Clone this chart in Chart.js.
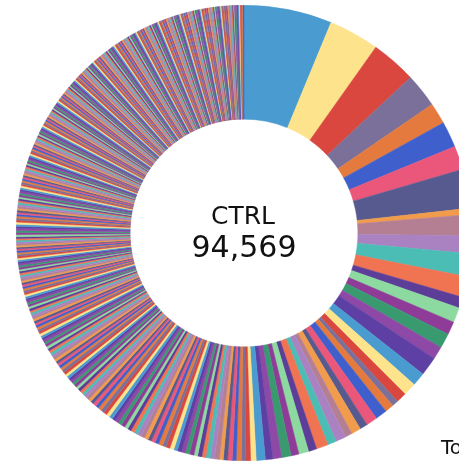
<!DOCTYPE html>
<html>
<head>
<meta charset="utf-8">
<script src="https://cdn.jsdelivr.net/npm/chart.js@4.4.1/dist/chart.umd.min.js"></script>
<style>
    html, body { margin: 0; padding: 0; background: #fff; overflow: hidden; width: 459px; height: 462px; }
    #wrap { position: absolute; left: 16px; top: 5px; width: 456px; height: 456px; }
    #cut { position: absolute; left: 441px; top: 437px; font: 20px "DejaVu Sans", sans-serif; color: #111; white-space: nowrap; line-height: 20px; }
</style>
</head>
<body>
<div id="wrap"><canvas id="donut"></canvas></div>
<div id="cut">Total</div>
<script>
// Etiqueta central
const centerTitle = 'CTRL';
const centerTotal = '94,569';

// Porciones grandes (arriba a la derecha)
const majorCounts = [5858, 3363, 3021, 2259, 1419, 1734, 1576, 2601, 420, 1392, 1182, 1524, 1392];
const secondCounts = [736, 998, 867, 998, 841, 1261, 893, 867];
const thirdCounts = [683, 420, 578, 788, 736, 525, 630, 473, 683, 578, 788, 552, 657, 525, 630, 578, 499, 604, 368];

// Cola larga (abajo y a la izquierda)
const tailA = [310, 295, 342, 268, 301, 287, 255, 330, 276, 298, 262, 281, 249, 305, 270, 258, 292, 244, 276, 263,
    239, 284, 251, 268, 236, 259, 247, 273, 230, 255, 242, 226, 261, 238, 249, 222, 244, 231, 218, 240, 227, 215, 233];
const tailB = [205, 188, 214, 196, 179, 201, 192, 174, 198, 185,
    170, 193, 181, 168, 189, 176, 163, 184, 172, 160,
    181, 169, 157, 176, 165, 152, 171, 161, 149, 168,
    158, 146, 165, 154, 143, 161, 151, 140, 158, 148,
    137, 155, 145, 134, 152, 142, 131, 149, 139, 129,
    146, 136, 127, 143, 134, 125, 141, 131, 123, 138,
    129, 121, 136, 127, 119, 133, 124, 117, 131, 122,
    115, 128, 120, 113, 126, 118, 111, 124, 116, 109,
    121, 114, 108];
const tailC = [148, 139, 132, 144, 136, 129, 141, 133, 126, 138,
    131, 124, 136, 128, 122, 134, 127, 120, 132, 125,
    119, 130, 123, 117, 128, 121, 115, 126, 119, 114,
    124, 118, 112, 122, 116, 111, 121, 115, 109, 119,
    113, 108, 118, 112, 107, 116, 110, 105, 115, 109,
    104, 113, 108, 103, 112, 106, 102, 110, 105, 101,
    109, 104, 100, 108, 103, 99, 107, 102, 98, 106,
    101, 97, 105, 100, 96, 104, 99, 95, 103, 98,
    94, 102, 97, 93, 101, 96, 92, 100, 95, 91,
    99, 94, 90, 98, 93, 89, 97, 92, 88, 96,
    91, 87, 95, 90, 86, 94, 89, 85, 93, 88,
    84, 92, 87, 83, 91, 86, 82, 90, 85, 81,
    89, 84, 80, 88, 83];
const tailD = [102, 95, 99, 91, 97, 93, 88, 96, 92, 98,
    90, 95, 87, 93, 89, 94, 86, 91, 96, 88,
    92, 85, 90, 87, 93, 84, 89, 91, 86, 88,
    83, 90, 86, 88, 82, 89, 85, 87, 81, 88,
    84, 86, 80, 87, 83, 85, 79, 86, 82, 84,
    78, 85, 81, 83, 77, 84, 80, 82, 76, 83,
    79, 81, 75, 82, 78, 80, 74, 81, 77, 79,
    73, 80, 76, 78, 72, 79, 75, 77, 71, 78,
    74, 76, 70, 77, 73, 75, 69, 76, 72, 74,
    68, 75, 71, 73, 67, 74, 70, 72, 66, 73,
    69, 71, 65, 72, 68, 70, 64, 71, 67, 69,
    63, 70, 66, 68, 62, 69, 65, 67, 61, 68,
    64, 66, 60, 67, 63, 65, 59, 66, 62, 64,
    58, 63, 61];

const palette = ['#4a9bd0', '#fde38c', '#d9473f', '#7b7099', '#e47a3d', '#3f60cc', '#ea577b', '#575a8f',
    '#f19c4c', '#b47f93', '#ab82c1', '#4bbdb5', '#f07352', '#5c3d98', '#8ddaa0', '#8f3c98',
    '#399a70', '#8e48a6', '#5e40a4'];

const counts = [].concat(majorCounts, secondCounts, thirdCounts, tailA, tailB, tailC, tailD);
const labels = counts.map((_, i) => 'G' + (i + 1));
const colors = counts.map((_, i) => palette[i % palette.length]);

// Texto en el centro del anillo
const centerText = {
    id: 'centerText',
    afterDraw(chart) {
        const arc = chart.getDatasetMeta(0).data[0];
        if (!arc) return;
        const ctx = chart.ctx;
        ctx.save();
        ctx.fillStyle = '#111';
        ctx.textAlign = 'center';
        ctx.textBaseline = 'middle';
        ctx.font = '25px "DejaVu Sans", sans-serif';
        ctx.fillText(centerTitle, arc.x - 1, arc.y - 16);
        ctx.font = '30px "DejaVu Sans", sans-serif';
        ctx.fillText(centerTotal, arc.x, arc.y + 16);
        ctx.restore();
    }
};

new Chart(document.getElementById('donut'), {
    type: 'doughnut',
    data: {
        labels: labels,
        datasets: [{
            data: counts,
            backgroundColor: colors,
            borderColor: colors,   // mismo color para tapar las costuras blancas
            borderWidth: 0.5
        }]
    },
    options: {
        responsive: true,
        maintainAspectRatio: false,
        animation: false,
        cutout: '50%',
        layout: { padding: 0 },
        plugins: {
            legend: { display: false },
            tooltip: { enabled: false }
        }
    },
    plugins: [centerText]
});
</script>
</body>
</html>
